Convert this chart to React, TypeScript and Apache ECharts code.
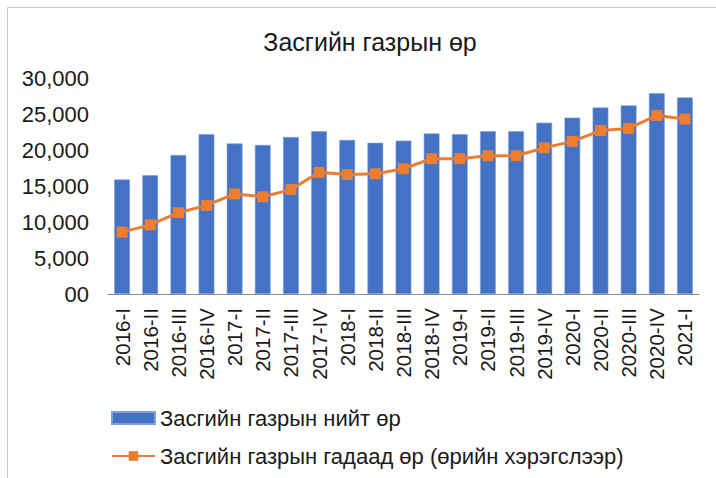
import React, { useEffect, useRef } from "react";
import * as echarts from "echarts";

const categories = [
  "2016-I", "2016-II", "2016-III", "2016-IV",
  "2017-I", "2017-II", "2017-III", "2017-IV",
  "2018-I", "2018-II", "2018-III", "2018-IV",
  "2019-I", "2019-II", "2019-III", "2019-IV",
  "2020-I", "2020-II", "2020-III", "2020-IV",
  "2021-I",
];
const totalDebt = [
  15900, 16500, 19300, 22200, 20900, 20700, 21800, 22600, 21400, 21000, 21300,
  22300, 22200, 22600, 22600, 23800, 24500, 25900, 26200, 27900, 27300,
];
const externalDebt = [
  8600, 9600, 11300, 12300, 13900, 13500, 14500, 16900, 16600, 16700, 17400,
  18800, 18800, 19200, 19200, 20300, 21200, 22700, 23000, 24800, 24300,
];
const titleText = "Засгийн газрын өр";
const seriesNames = [
  "Засгийн газрын нийт өр",
  "Засгийн газрын гадаад өр (өрийн хэрэгслээр)",
];

export default function App() {
  const ref = useRef<HTMLDivElement>(null);
  useEffect(() => {
    document.body.style.margin = "0";
    const chart = echarts.init(ref.current!, null, { renderer: "svg" });
    const font = "Liberation Sans, Arial, sans-serif";
    chart.setOption({
      animation: false,
      backgroundColor: "#ffffff",
      textStyle: { fontFamily: font },
      title: {
        text: titleText,
        left: 365,
        top: 24,
        textAlign: "center",
        textStyle: { fontFamily: font, fontSize: 25, fontWeight: "normal", color: "#1a1a1a" },
      },
      graphic: [
        {
          type: "rect",
          shape: { x: 7.5, y: 7.5, width: 900, height: 700 },
          style: { fill: "none", stroke: "#c8c8c8", lineWidth: 1 },
          silent: true,
        },
      ],
      legend: {
        orient: "vertical",
        left: 111,
        top: 407,
        padding: 0,
        itemWidth: 43,
        itemHeight: 12,
        itemGap: 16,
        textStyle: { fontFamily: font, fontSize: 22, color: "#1a1a1a" },
        data: [
          { name: seriesNames[0], icon: "rect" },
          { name: seriesNames[1] },
        ],
      },
      grid: { left: 108, right: 17, top: 78, bottom: 184, containLabel: false },
      xAxis: {
        type: "category",
        data: categories,
        axisLine: { lineStyle: { color: "#8c8c8c", width: 1 } },
        axisTick: { show: false },
        axisLabel: {
          rotate: 90,
          interval: 0,
          margin: 14,
          fontSize: 20.5,
          color: "#1a1a1a",
          fontFamily: font,
        },
      },
      yAxis: {
        type: "value",
        min: 0,
        max: 30000,
        interval: 5000,
        splitLine: { show: false },
        axisLine: { show: false },
        axisTick: { show: false },
        axisLabel: {
          fontSize: 22,
          color: "#1a1a1a",
          fontFamily: font,
          margin: 19,
          formatter: (v: number) => (v === 0 ? "00" : v.toLocaleString("en-US")),
        },
      },
      series: [
        {
          name: seriesNames[0],
          type: "bar",
          data: totalDebt,
          barCategoryGap: "44%",
          itemStyle: { color: "#4472C4", borderColor: "#7fa0d8", borderWidth: 0.6 },
        },
        {
          name: seriesNames[1],
          type: "line",
          data: externalDebt,
          symbol: "rect",
          symbolSize: 11,
          lineStyle: { color: "#ED7D31", width: 3 },
          itemStyle: { color: "#ED7D31" },
        },
      ],
    });
    return () => chart.dispose();
  }, []);
  return <div ref={ref} style={{ width: 716, height: 478 }} />;
}
